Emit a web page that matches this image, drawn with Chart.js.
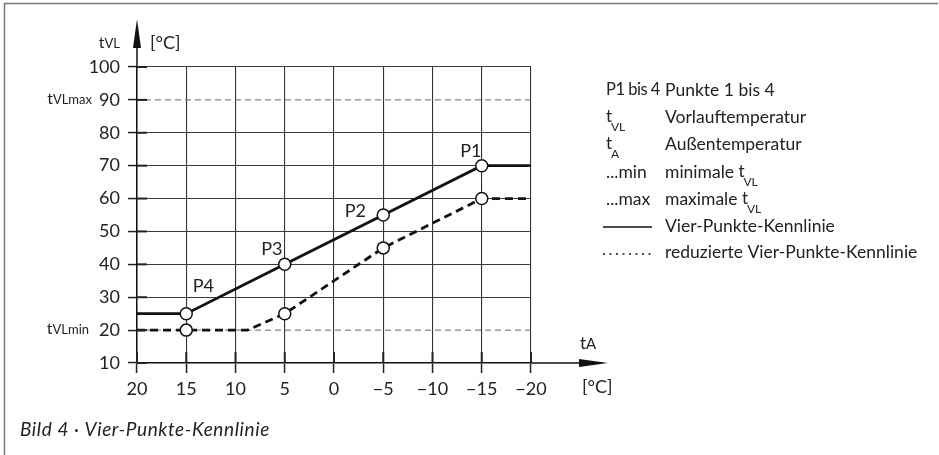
<!DOCTYPE html>
<html>
<head>
<meta charset="utf-8">
<title>Vier-Punkte-Kennlinie</title>
<script src="https://cdn.jsdelivr.net/npm/chart.js@4.4.1/dist/chart.umd.min.js"></script>
<style>
  html, body { margin: 0; padding: 0; background: #fff; }
  canvas { display: block; }
</style>
</head>
<body>
<canvas id="chart" width="939" height="455"></canvas>
<script>
// Außentemperatur tA (x) -> Vorlauftemperatur tVL (y), alles in °C
const outsideTemp = [20, 15, 5, -5, -15, -20];
const flowTemp    = [25, 25, 40, 55, 70, 70];
const pointNames  = ['', 'P4', 'P3', 'P2', 'P1', ''];

// reduzierte Kennlinie
const reducedOutside = [20, 15, 8.8, 5, -5, -15, -20];
const reducedFlow    = [20, 20, 20, 25, 45, 60, 60];
const reducedMarked  = [false, true, false, true, true, true, false];

// Grenzen tVLmin / tVLmax
const flowMin = 20;
const flowMax = 90;

const xRange = [-20, 20];
const yRange = [10, 100];

const FONT = 'Lato, "Open Sans", sans-serif';
const INK = '#222';

function toPoints(xs, ys) {
  return xs.map((x, i) => ({ x: x, y: ys[i] }));
}

function fmtTick(v) {
  return v < 0 ? '\u2212' + Math.abs(v) : String(v);
}

// "t" followed by its index on the same baseline (axis captions)
function drawIndexed(ctx, x, y, base, sub, opts) {
  const o = Object.assign({ size: 15, subSize: 11, drop: 0, align: 'left' }, opts);
  ctx.font = o.size + 'px ' + FONT;
  const wb = ctx.measureText(base).width;
  ctx.font = o.subSize + 'px ' + FONT;
  const ws = ctx.measureText(sub).width;
  let left = x;
  if (o.align === 'right') left = x - wb - ws;
  ctx.textAlign = 'left';
  ctx.textBaseline = 'alphabetic';
  ctx.font = o.size + 'px ' + FONT;
  ctx.fillText(base, left, y);
  ctx.font = o.subSize + 'px ' + FONT;
  ctx.fillText(sub, left + wb, y + o.drop);
}

// "t" with a real subscript (key entries)
function drawSub(ctx, x, y, sub) {
  ctx.textAlign = 'left';
  ctx.textBaseline = 'middle';
  ctx.font = '17px ' + FONT;
  ctx.fillText('t', x, y);
  ctx.font = '12px ' + FONT;
  ctx.fillText(sub, x + 5, y + 10);
}

const labelOffsets = { P1: [-11, -14], P2: [-28, -4], P3: [-13, -15], P4: [17, -27] };

const decorations = {
  id: 'decorations',
  afterDraw(chart) {
    const { ctx, chartArea: a, scales: { x, y } } = chart;
    ctx.save();

    // frame
    ctx.strokeStyle = '#777';
    ctx.lineWidth = 1.5;
    ctx.beginPath();
    ctx.moveTo(4.5, 455);
    ctx.lineTo(4.5, 3.5);
    ctx.lineTo(938, 3.5);
    ctx.stroke();

    // axis arrows
    ctx.strokeStyle = '#111';
    ctx.fillStyle = '#111';
    ctx.lineWidth = 1.5;
    ctx.beginPath();
    ctx.moveTo(a.left, a.top);
    ctx.lineTo(a.left, 40);
    ctx.moveTo(a.right, a.bottom);
    ctx.lineTo(585, a.bottom);
    ctx.stroke();
    ctx.beginPath();
    ctx.moveTo(a.left, 19);
    ctx.lineTo(a.left - 4, 48);
    ctx.lineTo(a.left + 4, 48);
    ctx.closePath();
    ctx.fill();
    ctx.beginPath();
    ctx.moveTo(608, a.bottom);
    ctx.lineTo(579, a.bottom - 4);
    ctx.lineTo(579, a.bottom + 4);
    ctx.closePath();
    ctx.fill();

    // heavier tick stubs inside the plot
    ctx.lineWidth = 2;
    ctx.strokeStyle = '#222';
    y.ticks.forEach(t => {
      const py = y.getPixelForValue(t.value);
      ctx.beginPath();
      ctx.moveTo(a.left, py);
      ctx.lineTo(a.left + 10, py);
      ctx.stroke();
    });
    x.ticks.forEach(t => {
      const px = x.getPixelForValue(t.value);
      ctx.beginPath();
      ctx.moveTo(px, a.bottom);
      ctx.lineTo(px, a.bottom - 11);
      ctx.stroke();
    });

    ctx.fillStyle = INK;
    // axis captions
    drawIndexed(ctx, 120, 48, 't', 'VL', { size: 16, subSize: 13, align: 'right' });
    ctx.font = '18px ' + FONT;
    ctx.textAlign = 'left';
    ctx.textBaseline = 'middle';
    ctx.fillText('[°C]', 150, 43);
    ctx.fillText('[°C]', 582, y.getPixelForValue(yRange[0]) + 24);
    drawIndexed(ctx, 92, y.getPixelForValue(flowMax) + 4, 't', 'VLmax', { size: 16, subSize: 13, align: 'right' });
    drawIndexed(ctx, 89, y.getPixelForValue(flowMin) + 4, 't', 'VLmin', { size: 16, subSize: 13, align: 'right' });
    drawIndexed(ctx, 580, 349, 't', 'A', { size: 17, subSize: 15 });

    // point names
    ctx.font = '18px ' + FONT;
    ctx.textAlign = 'center';
    ctx.textBaseline = 'middle';
    pointNames.forEach((name, i) => {
      if (!name) return;
      const off = labelOffsets[name];
      const px = x.getPixelForValue(outsideTemp[i]) + off[0];
      const py = y.getPixelForValue(flowTemp[i]) + off[1];
      ctx.fillText(name, px, py);
    });

    // key
    const c1 = 606, c2 = 665;
    const rows = [90, 117, 144, 172, 199, 226, 252];
    ctx.textAlign = 'left';
    ctx.textBaseline = 'middle';
    ctx.font = '16.5px ' + FONT;
    ctx.letterSpacing = '-0.5px';
    ctx.fillText('P1 bis 4', c1, rows[0]);
    ctx.letterSpacing = '0px';
    ctx.font = '17.5px ' + FONT;
    ctx.fillText('Punkte 1 bis 4', c2, rows[0]);
    ctx.fillText('Vorlauftemperatur', c2, rows[1]);
    ctx.fillText('Außentemperatur', c2, rows[2]);
    ctx.fillText('...min', c1, rows[3]);
    ctx.fillText('...max', c1, rows[4]);
    ctx.fillText('Vier-Punkte-Kennlinie', c2, rows[5]);
    ctx.fillText('reduzierte Vier-Punkte-Kennlinie', c2, rows[6]);
    const wMin = ctx.measureText('minimale ').width;
    const wMax = ctx.measureText('maximale ').width;
    ctx.fillText('minimale ', c2, rows[3]);
    ctx.fillText('maximale ', c2, rows[4]);
    drawSub(ctx, c1, rows[1], 'VL');
    drawSub(ctx, c1, rows[2], 'A');
    drawSub(ctx, c2 + wMin, rows[3], 'VL');
    drawSub(ctx, c2 + wMax, rows[4], 'VL');

    ctx.strokeStyle = '#111';
    ctx.lineWidth = 1.5;
    ctx.beginPath();
    ctx.moveTo(c1 - 3, rows[5] + 1);
    ctx.lineTo(c1 + 46, rows[5] + 1);
    ctx.stroke();
    ctx.setLineDash([2, 4.5]);
    ctx.lineWidth = 1.3;
    ctx.beginPath();
    ctx.moveTo(c1 - 3, rows[6] + 2);
    ctx.lineTo(c1 + 46, rows[6] + 2);
    ctx.stroke();
    ctx.setLineDash([]);

    // caption
    ctx.font = 'italic 19px ' + FONT;
    ctx.letterSpacing = '0.6px';
    ctx.textBaseline = 'alphabetic';
    ctx.fillText('Bild 4 \u00b7 Vier-Punkte-Kennlinie', 20, 436);
    ctx.letterSpacing = '0px';

    ctx.restore();
  }
};

const markerStyle = {
  pointBackgroundColor: '#fff',
  pointBorderColor: '#111',
  pointBorderWidth: 1.5
};

new Chart(document.getElementById('chart'), {
  type: 'line',
  data: {
    datasets: [
      Object.assign({
        label: 'Vier-Punkte-Kennlinie',
        data: toPoints(outsideTemp, flowTemp),
        borderColor: '#111',
        borderWidth: 2.8,
        pointRadius: c => (pointNames[c.dataIndex] ? 6 : 0),
        order: 0
      }, markerStyle),
      Object.assign({
        label: 'reduzierte Vier-Punkte-Kennlinie',
        data: toPoints(reducedOutside, reducedFlow),
        borderColor: '#111',
        borderWidth: 2.8,
        borderDash: [8, 5],
        pointRadius: c => (reducedMarked[c.dataIndex] ? 6 : 0),
        order: 1
      }, markerStyle),
      {
        label: 'tVLmax',
        data: toPoints(xRange, [flowMax, flowMax]),
        borderColor: '#666',
        borderWidth: 1,
        borderDash: [6, 4],
        pointRadius: 0,
        order: 3
      },
      {
        label: 'tVLmin',
        data: toPoints(xRange, [flowMin, flowMin]),
        borderColor: '#666',
        borderWidth: 1,
        borderDash: [6, 4],
        pointRadius: 0,
        order: 3
      }
    ]
  },
  options: {
    responsive: false,
    animation: false,
    events: [],
    clip: false,
    layout: { padding: { left: 77, right: 408, top: 67, bottom: 52 } },
    elements: { line: { tension: 0, fill: false } },
    plugins: { legend: { display: false }, tooltip: { enabled: false } },
    scales: {
      x: {
        type: 'linear',
        min: xRange[0],
        max: xRange[1],
        reverse: true,
        afterFit(s) { s.height = 40; },
        ticks: {
          stepSize: 5,
          padding: 5,
          color: INK,
          font: { family: FONT, size: 18 },
          callback: v => fmtTick(v)
        },
        grid: { color: '#333', lineWidth: 1.1, tickLength: 10, tickColor: '#222', tickWidth: 1.5 },
        border: { color: '#111', width: 1.5 }
      },
      y: {
        type: 'linear',
        min: yRange[0],
        max: yRange[1],
        afterFit(s) { s.width = 60; },
        ticks: {
          stepSize: 10,
          padding: 8,
          color: INK,
          font: { family: FONT, size: 18 },
          callback: v => fmtTick(v)
        },
        grid: {
          color: c => (c.tick && (c.tick.value === flowMin || c.tick.value === flowMax) ? 'rgba(0,0,0,0)' : '#3a3a3a'),
          lineWidth: 1.1,
          tickLength: 9,
          tickColor: '#222',
          tickWidth: 1.5
        },
        border: { color: '#111', width: 1.5 }
      }
    }
  },
  plugins: [decorations]
});
</script>
</body>
</html>
